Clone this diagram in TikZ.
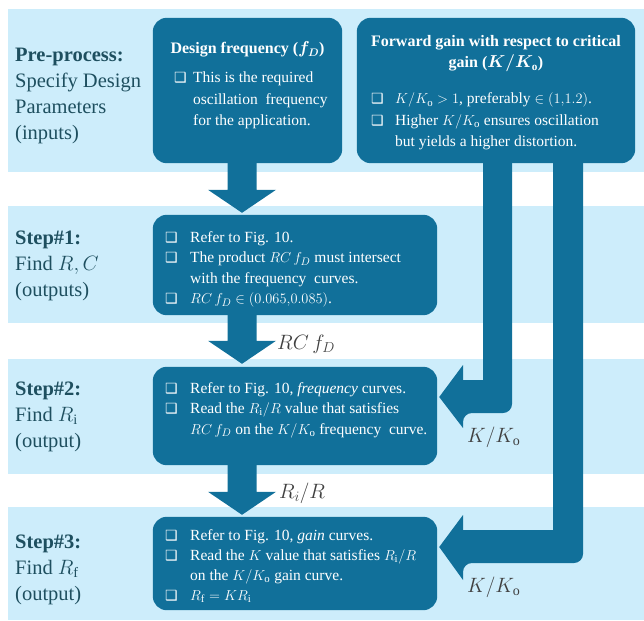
\documentclass[tikz,border=0pt]{standalone}
\usepackage{fontspec}
\setmainfont{Liberation Serif}
\newfontfamily\symfont{DejaVu Sans}
\usetikzlibrary{calc}
\definecolor{boxc}{HTML}{11709A}
\definecolor{bandc}{HTML}{CDEDFB}
\definecolor{labc}{HTML}{1E4F5F}
\newlength\itind
\newcommand\cbx{{\symfont\fontsize{14}{14}\selectfont\char"2751}}
\newcommand\itm[1]{\par\noindent\hangindent=\itind\hangafter=1\makebox[\itind][l]{\cbx}#1\par}
\newcommand\blist[3]{\vtop{\hsize=400pt\parindent=0pt\setlength\itind{#1}\fontsize{15.5}{#2}\selectfont #3}}
\newcommand\leftlines[1]{\vtop{\hsize=200pt\parindent=0pt\fontsize{20.5}{26}\selectfont #1}}
\newcommand\titlelines[2]{\vtop{\hsize=#1\centering\fontsize{16}{21}\selectfont\bfseries #2\par}}
\newcommand\blockdown[2]{\fill[arrowc] let \p1=(#1), \p2=(#2) in
  (\x1-14.5pt,\y1) -- (\x1+14.5pt,\y1) -- (\x1+14.5pt,\y2+23pt) -- (\x1+34pt,\y2+23pt)
  -- (\x1,\y2) -- (\x1-34pt,\y2+23pt) -- (\x1-14.5pt,\y2+23pt) -- cycle;}
\tikzset{
  band/.style={fill=bandc},
  arrowc/.style={fill=boxc},
  bluebox/.style={fill=boxc, rounded corners=14pt, inner sep=0pt},
  boxtext/.style={anchor=base west, inner sep=0pt, text=white},
  boxtitle/.style={anchor=base, inner sep=0pt, text=white},
  lefttext/.style={anchor=base west, inner sep=0pt, text=labc},
  flowlabel/.style={anchor=base west, inner sep=0pt, text=black!75,
    font=\fontsize{20}{24}\selectfont},
}
\begin{document}
\begin{tikzpicture}[x=1pt,y=-1pt]
\useasboundingbox (0,0) rectangle (644,620);
% bands
\fill[band] (8,9) rectangle (644,172);
\fill[band] (8,206) rectangle (644,323);
\fill[band] (8,359) rectangle (644,474);
\fill[band] (8,507) rectangle (644,620);
% box geometry (nodes)
\path (247.5,90.5) node[minimum width=189, minimum height=145] (design) {};
\path (496,90.5) node[minimum width=278, minimum height=145] (fwd) {};
\path (295,265) node[minimum width=284, minimum height=100] (s1) {};
\path (295,416) node[minimum width=284, minimum height=98] (s2) {};
\path (295,563.5) node[minimum width=284, minimum height=93] (s3) {};
\coordinate (ax) at (242,0);
% block arrows
\blockdown{$(design.south -| ax)+(0,-3)$}{$(s1.north -| ax)+(0,-2)$}
\blockdown{$(s1.south -| ax)+(0,-3)$}{$(s2.north -| ax)+(0,-3)$}
\blockdown{$(s2.south -| ax)+(0,-3)$}{$(s3.north -| ax)+(0,-2)$}
\coordinate (t2) at ($(s2.east)+(2,-19)$);
\coordinate (t3) at ($(s3.east)+(2,-16.5)$);
\fill[arrowc] (483,158) -- (512,158) [rounded corners=9pt] -- (512,413) -- (463,413) [sharp corners]
  -- (463,428) -- (t2) -- (463,365) -- (463,380) -- (483,380) -- cycle;
\fill[arrowc] (553,158) -- (583,158) [rounded corners=9pt] -- (583,563) -- (463,563) [sharp corners]
  -- (463,580) -- (t3) -- (463,515) -- (463,530) -- (553,530) -- cycle;
% boxes
\fill[bluebox] (design.south west) rectangle (design.north east);
\fill[bluebox] (fwd.south west) rectangle (fwd.north east);
\fill[bluebox] (s1.south west) rectangle (s1.north east);
\fill[bluebox] (s2.south west) rectangle (s2.north east);
\fill[bluebox] (s3.south west) rectangle (s3.north east);
% box titles
\node[boxtitle] (dtitle) at (247.5,54) {\titlelines{189pt}{Design frequency (\mbox{\boldmath$f_D$})}};
\node[boxtitle] (ftitle) at (496,47) {\titlelines{278pt}{Forward gain with respect to critical\\gain (\mbox{\boldmath$K/K_{\mathrm{o}}$})}};
% box texts
\node[boxtext] (dtext) at (174,83) {\blist{19pt}{21.5}{%
  \itm{This is the required\\oscillation\ \ frequency\\for the application.}}};
\node[boxtext] (ftext) at (371,104) {\blist{24pt}{21.5}{%
  \itm{$K/K_{\mathrm{o}}>1$, preferably $\in(1{,}1.2)$.}
  \itm{Higher $K/K_{\mathrm{o}}$ ensures oscillation\\but yields a higher distortion.}}};
\node[boxtext] (s1text) at (165,242) {\blist{25pt}{20.5}{%
  \itm{Refer to Fig. 10.}
  \itm{The product $RC\,f_D$ must intersect\\with the frequency\ \ curves.}
  \itm{$RC\,f_D\in(0.065{,}0.085)$.}}};
\node[boxtext] (s2text) at (165,393) {\blist{25pt}{20.5}{%
  \itm{Refer to Fig. 10, \textit{frequency} curves.}
  \itm{Read the $R_{\mathrm{i}}/R$ value that satisfies\\$RC\,f_D$ on the $K/K_{\mathrm{o}}$ frequency\ \ curve.}}};
\node[boxtext] (s3text) at (165,540) {\blist{25pt}{20}{%
  \itm{Refer to Fig. 10, \textit{gain} curves.}
  \itm{Read the $K$ value that satisfies $R_{\mathrm{i}}/R$\\on the $K/K_{\mathrm{o}}$ gain curve.}
  \itm{$R_{\mathrm{f}}=KR_{\mathrm{i}}$}}};
% left labels
\node[lefttext] (l0) at (15,62) {\leftlines{\textbf{Pre-process:}\\Specify Design\\Parameters\\(inputs)}};
\node[lefttext] (l1) at (15,244) {\leftlines{\textbf{Step\#1:}\\Find $R,C$\\(outputs)}};
\node[lefttext] (l2) at (15,395) {\leftlines{\textbf{Step\#2:}\\Find $R_{\mathrm{i}}$\\(output)}};
\node[lefttext] (l3) at (15,548) {\leftlines{\textbf{Step\#3:}\\Find $R_{\mathrm{f}}$\\(output)}};
% flow labels
\node[flowlabel] (lab1) at (277,349) {$RC\,f_D$};
\node[flowlabel] (lab2) at (279,498) {$R_i/R$};
\node[flowlabel] (lab3) at (467,442) {$K/K_{\mathrm{o}}$};
\node[flowlabel] (lab4) at (467,592) {$K/K_{\mathrm{o}}$};
\end{tikzpicture}
\end{document}
